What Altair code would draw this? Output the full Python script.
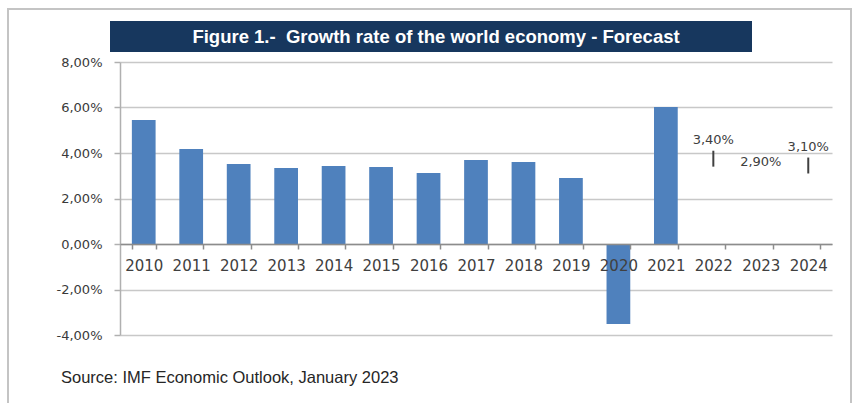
import altair as alt
import pandas as pd

years = [str(y) for y in range(2010, 2025)]
actual_years = years[:12]
actual_values = [5.45, 4.18, 3.52, 3.34, 3.43, 3.38, 3.12, 3.69, 3.60, 2.90, -3.52, 6.02]
forecast_years = ["2022", "2023", "2024"]
forecast_values = [3.40, 2.90, 3.10]
forecast_labels = ["3,40%", "2,90%", "3,10%"]
forecast_has_tick = [True, False, True]
y_ticks = [-4, -2, 0, 2, 4, 6, 8]

title_text = "Figure 1.-\u00a0 Growth rate of the world economy - Forecast"
source_text = "Source: IMF Economic Outlook, January 2023"

bars_df = pd.DataFrame({"year": actual_years, "value": actual_values})
fc_df = pd.DataFrame({"year": forecast_years, "value": forecast_values,
                      "label": forecast_labels, "tick": forecast_has_tick})

W, H = 712, 273
TXT = "#404040"
FONT = "DejaVu Sans"

xscale = alt.Scale(domain=years, paddingInner=0.5, paddingOuter=0.25)
yscale = alt.Scale(domain=[-4, 8], nice=False)

xaxis = alt.Axis(title=None, offset=-91, tickBand="extent", labelAngle=0, zindex=1,
                 labelFont=FONT, labelFontSize=15, labelColor=TXT, labelPadding=9,
                 domainColor="#8c8c8c", domainWidth=1.5, tickColor="#8c8c8c",
                 tickSize=5, tickWidth=1.5, grid=False, labelOverlap=False)
yaxis = alt.Axis(title=None, values=y_ticks,
                 labelExpr="replace(replace(format(datum.value, '.2f'), '.', ','), '\u2212', '-') + '%'",
                 labelFont=FONT, labelFontSize=13, labelColor="#3a3a3a", labelPadding=12,
                 domainColor="#b0b0b0", domainWidth=1.5, tickColor="#b0b0b0",
                 tickSize=6, tickWidth=1.5, grid=True, gridColor="#c8c8c8", gridWidth=1.5)

# outer frame and banner (decoration)
frame = alt.Chart(pd.DataFrame({"a": [0]})).mark_rect(
    fill=None, stroke="#c4c4c4", strokeWidth=2
).encode(x=alt.value(-112), x2=alt.value(731), y=alt.value(-53), y2=alt.value(360))

banner = alt.Chart(pd.DataFrame({"a": [0]})).mark_rect(color="#17375e").encode(
    x=alt.value(-10), x2=alt.value(632), y=alt.value(-41), y2=alt.value(-10))

banner_text = alt.Chart(pd.DataFrame({"t": [title_text]})).mark_text(
    font="Liberation Sans", fontSize=18.5, fontWeight="bold", color="white",
    align="center", baseline="middle"
).encode(text="t:N", x=alt.value(316), y=alt.value(-25))

source = alt.Chart(pd.DataFrame({"t": [source_text]})).mark_text(
    font="Liberation Sans", fontSize=16.5, color="#262626", align="left", baseline="middle"
).encode(text="t:N", x=alt.value(-59), y=alt.value(316))

bars = alt.Chart(bars_df).mark_bar(color="#4f81bd").encode(
    x=alt.X("year:N", scale=xscale, axis=xaxis, sort=years),
    y=alt.Y("value:Q", scale=yscale, axis=yaxis),
)

fc_base = alt.Chart(fc_df).transform_calculate(top="datum.value + 0.7")

fc_ticks = fc_base.transform_filter("datum.tick").mark_rule(color="#404040", strokeWidth=2).encode(
    x=alt.X("year:N", scale=xscale, sort=years),
    y=alt.Y("value:Q", scale=yscale),
    y2="top:Q",
)
fc_lbl_tick = fc_base.transform_filter("datum.tick").mark_text(
    font=FONT, fontSize=13, color=TXT, baseline="middle", dy=-11
).encode(x=alt.X("year:N", scale=xscale, sort=years), y=alt.Y("top:Q", scale=yscale), text="label:N")
fc_lbl_notick = fc_base.transform_filter("!datum.tick").mark_text(
    font=FONT, fontSize=13, color=TXT, baseline="middle", dy=-16
).encode(x=alt.X("year:N", scale=xscale, sort=years), y=alt.Y("value:Q", scale=yscale), text="label:N")

chart = alt.layer(frame, banner, banner_text, source, bars, fc_ticks, fc_lbl_tick, fc_lbl_notick).properties(
    width=W, height=H,
    autosize=alt.AutoSizeParams(type="none"),
    padding={"left": 120, "top": 62, "right": 22, "bottom": 68},
    background="white",
).configure_view(stroke=None)

chart.save("out.html", embed_options={"renderer": "svg", "actions": False})
